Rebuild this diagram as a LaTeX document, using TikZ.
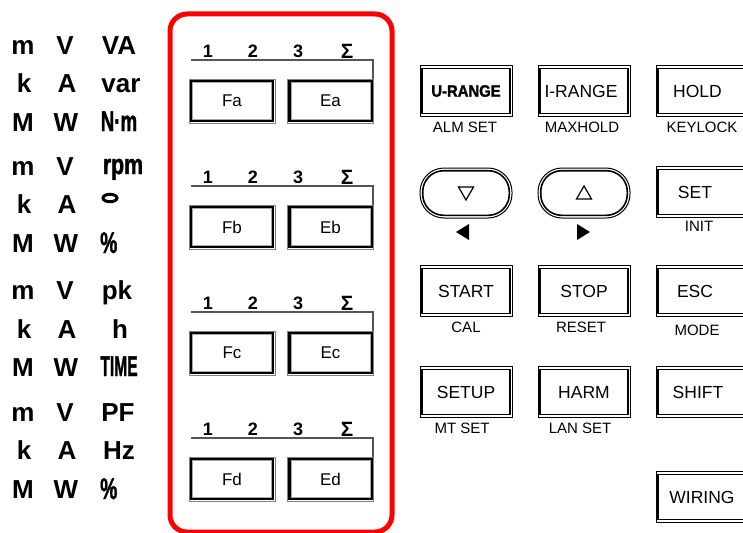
\documentclass[tikz,border=0pt]{standalone}
\usepackage{fontspec}
\setmainfont{Liberation Sans}
\newfontfamily\heavyfont[FakeBold=1.6]{Liberation Sans Bold}
\usetikzlibrary{calc,shapes.geometric}
\definecolor{panelred}{RGB}{255,0,0}
\definecolor{linegray}{RGB}{85,85,85}
\tikzset{
  unit/.style={inner sep=0pt, font=\bfseries\fontsize{26}{26}\selectfont},
  heavyunit/.style={inner sep=0pt, font=\heavyfont\fontsize{26}{26}\selectfont},
  chan/.style={inner sep=0pt, font=\bfseries\fontsize{18}{18}\selectfont},
  fkeybox/.style={draw=gray, line width=0.8pt, fill=white, minimum width=86pt, minimum height=44pt, inner sep=0pt, font=\fontsize{17}{17}\selectfont},
  rkeybox/.style={draw=black, line width=0.9pt, fill=white, minimum width=92pt, minimum height=51pt, inner sep=0pt, font=\fontsize{17.5}{17.5}\selectfont},
  ovalbox/.style={draw=black, line width=1pt, fill=white, rounded corners=24pt, minimum width=92pt, minimum height=50pt, inner sep=0pt},
  sublabel/.style={inner sep=0pt, font=\fontsize{15}{15}\selectfont},
  panel/.style={draw=panelred, line width=5pt, rounded corners=17pt, minimum width=222pt, minimum height=518pt, inner sep=0pt},
  rule/.style={draw=linegray, line width=2pt},
}
\newcommand\fkey[4]{%
  \node[fkeybox] (#1) at (#2,#3) {#4};
  \draw[black,line width=2.6pt] ($(#1.north west)+(2.4,2.4)$) rectangle ($(#1.south east)+(-2.4,-2.4)$);
  \draw[gray!70,line width=0.6pt] ($(#1.north west)+(4.1,4.1)$) rectangle ($(#1.south east)+(-4.1,-4.1)$);
}
\newcommand\rkey[4]{%
  \node[rkeybox] (#1) at (#2,#3) {#4};
  \draw[black,line width=1.4pt] ($(#1.north west)+(3.2,3.2)$) rectangle ($(#1.south east)+(-3.2,-3.2)$);
  \fill[black] ($(#1.north west)+(1,3)$) rectangle ($(#1.south west)+(3.6,-3)$);
  \fill[black] ($(#1.north east)+(-3.6,3)$) rectangle ($(#1.south east)+(-1,-3)$);
}
\newcommand\chgroup[2]{% suffix, offset
  \node[chan] (n1#1) at (208,51+#2) {1};
  \node[chan] (n2#1) at (253,51+#2) {2};
  \node[chan] (n3#1) at (298,51+#2) {3};
  \node[chan] (ns#1) at (347,51+#2) {\scalebox{1.15}{Σ}};
  \coordinate (ra#1) at (191,60+#2);
  \coordinate (rb#1) at (373,60+#2);
  \coordinate (rc#1) at (373,79+#2);
  \draw[rule] (ra#1) -- (rb#1) -- (rc#1);
}
\begin{document}
\begin{tikzpicture}[x=1pt,y=-1pt]
\useasboundingbox (0,0) rectangle (743,532);
\clip (0,0) rectangle (743,532);
\fill[white] (0,0) rectangle (743,532);

% ---- unit labels ----
\node[unit,anchor=base] (m1) at (23,55) {m};
\node[unit,anchor=base] (v1) at (65,55) {V};
\node[unit,anchor=base] (va) at (119,55) {VA};
\node[unit,anchor=base] (k1) at (24,93) {k};
\node[unit,anchor=base] (a1) at (67,93) {A};
\node[unit,anchor=base] (var) at (121,93) {var};
\node[unit,anchor=base] (M1) at (23,131) {M};
\node[unit,anchor=base] (w1) at (66,131) {W};
\node[heavyunit,anchor=base] (nm) at (119,131) {\scalebox{0.72}[1.1]{N·m}};

\node[unit,anchor=base] (m2) at (23,175) {m};
\node[unit,anchor=base] (v2) at (65,175) {V};
\node[heavyunit,anchor=base] (rpm) at (123,174) {\scalebox{0.82}[1.08]{rpm}};
\node[unit,anchor=base] (k2) at (24,213) {k};
\node[unit,anchor=base] (a2) at (67,213) {A};
\node[draw, line width=3pt, ellipse, minimum width=14pt, minimum height=7.5pt, inner sep=0pt] (deg) at (110,198) {};
\node[unit,anchor=base] (M2) at (23,252) {M};
\node[unit,anchor=base] (w2) at (66,252) {W};
\node[heavyunit,anchor=base west] (pc1) at (100,253) {\scalebox{0.74}[1.15]{\%}};

\node[unit,anchor=base] (m3) at (23,299) {m};
\node[unit,anchor=base] (v3) at (65,299) {V};
\node[unit,anchor=base] (pk) at (117,299) {pk};
\node[unit,anchor=base] (k3) at (24,338) {k};
\node[unit,anchor=base] (a3) at (67,338) {A};
\node[unit,anchor=base] (h) at (120,338) {h};
\node[unit,anchor=base] (M3) at (23,376) {M};
\node[unit,anchor=base] (w3) at (66,376) {W};
\node[heavyunit,anchor=base] (time) at (119,376) {\scalebox{0.6}[1.1]{TIME}};

\node[unit,anchor=base] (m4) at (23,421) {m};
\node[unit,anchor=base] (v4) at (65,421) {V};
\node[unit,anchor=base] (pf) at (118,421) {PF};
\node[unit,anchor=base] (k4) at (24,459) {k};
\node[unit,anchor=base] (a4) at (67,459) {A};
\node[unit,anchor=base] (hz) at (119,459) {Hz};
\node[unit,anchor=base] (M4) at (23,498) {M};
\node[unit,anchor=base] (w4) at (66,498) {W};
\node[heavyunit,anchor=base west] (pc2) at (100,499) {\scalebox{0.74}[1.15]{\%}};

% ---- red panel ----
\node[panel] (panel) at (281,273) {};

\chgroup{a}{0}
\chgroup{b}{126}
\chgroup{c}{252}
\chgroup{d}{378}
\fkey{Fa}{232}{101}{Fa}
\fkey{Ea}{330.5}{101}{Ea}
\fkey{Fb}{232}{227}{Fb}
\fkey{Eb}{330.5}{227}{Eb}
\fkey{Fc}{232}{353}{Fc}
\fkey{Ec}{330.5}{353}{Ec}
\fkey{Fd}{232}{479}{Fd}
\fkey{Ed}{330.5}{479}{Ed}

% ---- right keys ----
\rkey{urange}{466}{91}{\heavyfont\fontsize{16.5}{16.5}\selectfont\scalebox{0.9}[1]{U-RANGE}}
\rkey{irange}{584}{91}{\hspace*{-6pt}I-RANGE}
\rkey{hold}{702}{91}{\hspace*{-9pt}HOLD}
\node[sublabel] (almset) at (465,127) {ALM SET};
\node[sublabel] (maxhold) at (582,127) {MAXHOLD};
\node[sublabel] (keylock) at (702,127) {KEYLOCK};

\node[ovalbox] (down) at (466,193) {};
\draw[line width=1.6pt, rounded corners=21pt] ($(down.north west)+(3.2,3.2)$) rectangle ($(down.south east)+(-3.2,-3.2)$);
\draw[line width=1.2pt, line join=miter] ($(down.center)+(-7.5,-6)$) -- ($(down.center)+(7.5,-6)$) -- ($(down.center)+(0,7)$) -- cycle;
\node[ovalbox] (up) at (584,193) {};
\draw[line width=1.6pt, rounded corners=21pt] ($(up.north west)+(3.2,3.2)$) rectangle ($(up.south east)+(-3.2,-3.2)$);
\draw[line width=1.2pt, line join=miter] ($(up.center)+(-7.5,6)$) -- ($(up.center)+(7.5,6)$) -- ($(up.center)+(0,-7)$) -- cycle;
\coordinate (lefttri) at (463,232);
\coordinate (righttri) at (583,232);
\fill ($(lefttri)+(-7,0)$) -- ($(lefttri)+(6,-8)$) -- ($(lefttri)+(6,8)$) -- cycle;
\fill ($(righttri)+(7,0)$) -- ($(righttri)+(-6,-8)$) -- ($(righttri)+(-6,8)$) -- cycle;

\rkey{setk}{702}{192}{\hspace*{-14pt}SET}
\node[sublabel] (init) at (699,226) {INIT};

\rkey{start}{466}{291}{START}
\rkey{stop}{584}{291}{STOP}
\rkey{esc}{702}{291}{\hspace*{-14pt}ESC}
\node[sublabel] (cal) at (466,327) {CAL};
\node[sublabel] (reset) at (581,327) {RESET};
\node[sublabel] (mode) at (697,330) {MODE};

\rkey{setup}{466}{392}{SETUP}
\rkey{harm}{584}{392}{HARM}
\rkey{shift}{702}{392}{\hspace*{-8pt}SHIFT}
\node[sublabel] (mtset) at (462,428) {MT SET};
\node[sublabel] (lanset) at (580,428) {LAN SET};

\rkey{wiring}{702}{497}{WIRING}
\end{tikzpicture}
\end{document}
